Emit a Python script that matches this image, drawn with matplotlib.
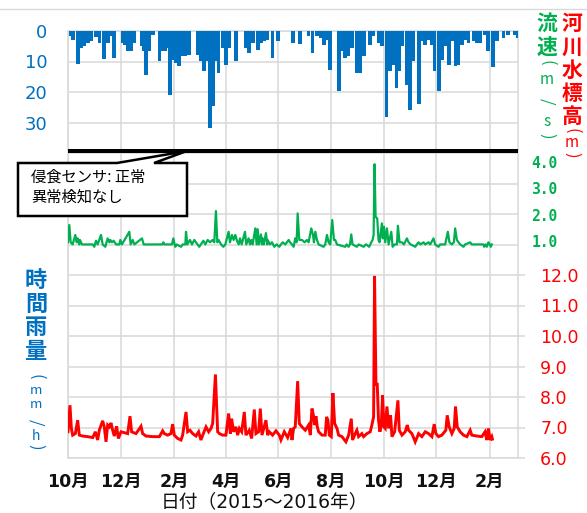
import matplotlib
matplotlib.use("Agg")
import matplotlib.pyplot as plt
from matplotlib.patches import Polygon
from matplotlib.lines import Line2D
import numpy as np
import pandas as pd

plt.rcParams["font.family"] = ["DejaVu Sans", "Noto Sans CJK JP"]

START = pd.Timestamp("2015-10-01")

# ---- hourly rainfall (mm/h), day offset from START ----
rain_day = [3.5, 6.2, 11.6, 15.1, 18.6, 22.8, 27.1, 32.5, 36.7, 41.7, 46.0, 50.0, 53.7,
            63.4, 66.1, 69.2, 73.1, 76.2, 85.4, 88.0, 90.1, 94.3, 98.2,
            106.0, 109.0, 112.5, 115.6, 118.7, 122.2, 125.2, 129.1, 133.0, 136.0, 140.7,
            150.4, 154.2, 158.1, 161.6, 164.7, 168.2, 171.6, 174.7, 179.4, 183.2, 187.1, 194.8,
            206.4, 210.3, 214.2, 220.0, 223.8, 227.7, 231.5, 237.3, 243.2, 261.0,
            269.4, 279.0, 283.7, 288.8, 293.4, 297.3, 300.4, 303.8, 314.7, 318.1, 321.6,
            325.4, 329.3, 335.1, 339.4, 343.2, 350.6, 354.4, 360.2, 364.1, 369.5, 373.8,
            377.6, 381.1, 383.8, 387.3, 392.7, 396.5, 400.8, 407.0, 410.4, 414.3, 418.2,
            422.0, 425.2, 430.2, 433.7, 437.5, 441.8, 446.4, 449.5, 453.0, 456.8, 460.7,
            464.5, 470.3, 474.2, 478.0, 483.8, 486.9, 492.7, 497.4, 505.1, 510.1, 517.8, 521.6]
rain_mm = [1.5, 2.8, 10.8, 5.6, 5.0, 3.9, 3.4, 2.0, 3.9, 9.2, 3.9, 1.5, 8.9,
           3.9, 4.5, 6.7, 6.7, 3.9, 5.0, 6.5, 14.3, 6.7, 1.2,
           9.9, 6.7, 6.7, 5.6, 20.9, 9.5, 10.5, 11.6, 8.3, 8.3, 7.8,
           8.0, 9.9, 13.2, 9.9, 31.8, 24.7, 9.9, 13.8, 5.6, 11.0, 5.6, 9.9,
           5.6, 7.2, 3.9, 6.2, 3.9, 3.4, 2.8, 8.9, 3.4, 3.9,
           4.3, 1.8, 7.2, 1.8, 2.3, 4.5, 2.8, 12.7, 19.8, 6.7, 8.9,
           8.3, 5.6, 13.8, 13.8, 8.3, 4.5, 1.8, 3.9, 5.0, 28.3, 13.2,
           11.0, 18.7, 13.2, 5.0, 17.6, 25.8, 9.9, 23.9, 3.4, 4.5, 2.8,
           4.5, 13.2, 19.8, 9.4, 5.0, 11.0, 3.4, 11.6, 11.0, 4.5, 2.8,
           3.9, 3.4, 3.9, 3.9, 1.2, 6.7, 11.9, 3.4, 2.3, 1.2, 1.2, 2.3]

# ---- flow velocity (m/s) ----
vel_day = [0, 1.5, 3.1, 5.4, 8.5, 10.1, 11.2, 13.1, 13.9, 16.2, 24.7, 28.7, 30.5, 32.5,
           34.4, 38.3, 40.2, 43.3, 46.0, 48.0, 49.1, 51.0, 53.0, 55.7, 59.5, 60.7, 62.6,
           71.1, 72.7, 75.0, 77.0, 85.8, 87.8, 109.8, 110.6, 112.1, 120.6, 122.2, 123.7,
           124.5, 126.0, 131.1, 133.0, 136.1, 136.9, 138.4, 141.5, 143.8, 146.5, 148.4,
           152.3, 154.2, 157.0, 159.3, 162.0, 164.7, 167.8, 169.7, 171.6, 173.2, 174.7,
           177.5, 180.2, 182.5, 186.3, 187.9, 190.2, 192.1, 194.1, 196.0, 198.0, 199.5,
           201.5, 205.3, 206.8, 209.5, 211.1, 212.6, 214.2, 217.3, 218.8, 220.0, 221.5,
           223.8, 225.0, 225.7, 227.3, 229.6, 231.2, 231.6, 234.3, 236.6, 239.3, 242.0,
           245.1, 247.0, 249.0, 252.1, 256.0, 257.5, 259.8, 261.7, 263.6, 265.2, 266.4,
           268.3, 271.4, 274.5, 277.2, 279.1, 282.2, 284.2, 285.3, 286.9, 288.8, 290.7,
           296.5, 298.4, 300.4, 302.3, 304.2, 306.5, 308.5, 310.0, 312.0, 321.6, 323.2,
           325.5, 327.1, 328.6, 330.1, 335.1, 337.1, 342.9, 345.6, 349.4, 351.8, 353.3,
           354.5, 355.6, 356.8, 358.7, 360.2, 361.4, 364.1, 365.2, 366.5, 368.0, 370.0,
           371.9, 375.0, 376.6, 378.9, 381.6, 382.7, 384.6, 387.4, 389.7, 393.1, 395.1,
           397.4, 402.8, 404.7, 406.7, 409.0, 412.4, 414.4, 418.2, 420.1, 424.0, 425.9,
           429.8, 431.7, 437.5, 440.6, 442.5, 445.3, 447.6, 449.1, 451.1, 453.0, 454.9,
           458.8, 460.7, 466.5, 468.4, 481.9, 482.7, 484.6, 485.8, 487.7, 489.2, 490.4, 491.6]
vel_ms = [0.95, 1.61, 0.95, 0.87, 1.23, 0.95, 1.10, 0.87, 1.04, 0.87, 0.87, 0.87, 0.78, 1.01,
          0.87, 1.23, 0.87, 0.78, 1.10, 0.95, 1.04, 0.95, 1.01, 0.87, 0.87, 1.04, 0.87,
          1.35, 0.87, 1.04, 0.87, 1.10, 0.87, 0.87, 0.95, 0.87, 0.87, 1.10, 0.87,
          0.78, 0.87, 0.78, 0.87, 0.87, 1.35, 0.87, 1.04, 0.87, 1.04, 0.95,
          0.78, 0.87, 1.01, 0.87, 1.04, 0.95, 1.04, 0.95, 2.14, 0.95, 1.04,
          0.87, 0.78, 0.87, 1.35, 0.95, 1.23, 1.04, 1.23, 1.01, 0.87, 1.10,
          0.87, 1.35, 0.87, 1.10, 0.87, 1.04, 0.87, 1.48, 0.87, 1.45, 0.87,
          1.25, 0.87, 1.10, 0.87, 1.30, 0.87, 1.04, 0.87, 0.95, 0.78, 0.87,
          0.78, 0.87, 0.95, 0.87, 1.04, 0.95, 0.87, 0.78, 1.10, 0.95, 2.05,
          1.04, 1.04, 0.95, 1.04, 0.95, 1.48, 1.23, 0.95, 1.35, 1.04, 0.87,
          0.78, 0.87, 1.23, 0.95, 0.87, 1.80, 1.04, 1.04, 0.87, 0.78, 0.87,
          0.78, 0.87, 1.25, 0.87, 0.78, 0.87, 0.78, 0.87, 0.78, 0.95, 1.04,
          1.23, 3.92, 1.92, 1.86, 1.04, 0.95, 1.67, 1.10, 1.54, 0.95, 1.48,
          0.87, 1.35, 0.78, 0.87, 0.87, 1.58, 0.95, 0.95, 0.87, 1.10, 0.95,
          0.87, 0.78, 0.87, 0.95, 0.87, 0.95, 0.87, 0.95, 0.87, 1.10, 0.87,
          0.78, 0.87, 0.87, 1.35, 0.95, 0.87, 0.95, 1.48, 1.04, 0.95, 0.87,
          0.78, 0.87, 0.95, 0.87, 0.87, 0.78, 0.87, 0.78, 0.95, 0.87, 0.78, 0.87]

# ---- river water level elevation (m) ----
lvl_day = [0, 2.3, 3.9, 5.4, 8.5, 11.2, 13.1, 17.0, 22.8, 28.7, 31.7, 34.4, 36.3, 40.2,
           42.1, 44.1, 46.0, 48.0, 49.9, 51.8, 53.7, 56.4, 58.4, 61.5, 69.2, 71.9, 73.8,
           78.9, 84.7, 86.6, 90.5, 98.2, 106.0, 109.8, 111.7, 115.6, 119.4, 121.4, 123.3,
           127.2, 131.1, 133.0, 136.9, 138.8, 141.5, 144.6, 148.4, 151.5, 154.2, 157.0,
           160.1, 163.2, 165.9, 167.8, 171.0, 173.6, 175.6, 179.4, 183.2, 186.3, 188.3,
           189.8, 192.1, 194.8, 196.8, 198.8, 201.5, 204.5, 206.4, 210.3, 213.0, 216.1,
           218.0, 221.1, 223.1, 225.0, 229.6, 231.6, 233.5, 237.3, 241.2, 245.1, 247.0,
           250.9, 254.8, 258.6, 259.8, 261.7, 263.6, 266.4, 268.3, 271.4, 275.3, 279.1,
           281.1, 283.0, 285.0, 286.1, 287.6, 289.2, 290.7, 294.6, 298.4, 300.0, 301.5,
           303.1, 305.4, 307.3, 309.3, 312.0, 313.9, 317.8, 322.4, 325.5, 328.6, 330.1,
           333.2, 335.1, 337.1, 340.9, 342.9, 346.7, 350.6, 352.5, 354.5, 355.6, 357.2,
           358.7, 360.2, 361.8, 363.4, 364.9, 366.5, 368.0, 370.0, 371.9, 374.2, 375.8,
           378.9, 382.7, 384.3, 387.4, 391.2, 393.5, 395.1, 398.9, 402.8, 406.7, 410.5,
           414.4, 418.2, 422.1, 424.8, 426.7, 429.8, 433.7, 438.3, 439.9, 442.2, 445.3,
           448.0, 449.5, 451.5, 454.9, 458.8, 462.7, 466.5, 468.4, 474.2, 480.0, 483.8,
           485.8, 487.7, 489.6, 491.6, 492.3]
lvl_m = [6.86, 7.73, 6.97, 6.75, 6.80, 7.24, 6.75, 6.72, 6.70, 6.67, 6.86, 6.59, 6.91, 7.22,
         7.02, 6.53, 7.08, 7.02, 7.15, 6.91, 6.72, 7.04, 6.64, 6.86, 6.80, 7.37, 6.86,
         6.80, 7.04, 6.80, 6.72, 6.70, 6.70, 6.89, 6.80, 6.75, 6.80, 7.11, 6.75,
         6.64, 6.59, 6.75, 7.51, 6.86, 6.91, 6.80, 6.72, 6.86, 6.59, 6.80,
         7.02, 6.86, 6.97, 7.13, 8.74, 6.86, 6.80, 6.75, 6.75, 7.46, 6.80,
         7.29, 6.86, 7.02, 6.75, 6.97, 6.86, 7.51, 6.75, 6.91, 6.64, 7.59,
         6.80, 6.86, 7.62, 6.75, 7.24, 6.75, 6.86, 6.75, 6.89, 6.75, 6.59,
         6.86, 6.67, 6.97, 6.59, 6.97, 7.02, 8.52, 7.13, 7.02, 6.91, 7.08,
         6.75, 7.62, 7.36, 7.08, 7.37, 7.02, 6.86, 6.75, 6.75, 7.35, 7.24,
         6.75, 6.70, 8.13, 7.13, 6.97, 6.75, 6.70, 6.53, 6.75, 7.29, 6.59,
         6.80, 6.91, 6.70, 6.80, 6.70, 6.80, 6.86, 7.08, 7.35, 11.97, 8.42,
         8.42, 7.24, 6.86, 7.08, 8.05, 7.02, 6.97, 7.69, 6.97, 7.40, 6.70,
         6.86, 7.89, 6.91, 6.75, 6.86, 7.08, 6.91, 6.80, 6.53, 6.80, 6.70,
         6.86, 6.80, 6.70, 7.11, 6.80, 6.70, 6.75, 6.91, 7.40, 7.02, 6.80,
         6.97, 7.69, 7.02, 6.86, 6.75, 6.70, 6.91, 6.75, 6.72, 6.70, 6.86,
         6.59, 6.97, 6.59, 6.70, 6.62]

month_ticks = pd.date_range("2015-10-01", "2017-02-01", freq="2MS")
rain_ticks = [0, 10, 20, 30]
vel_ticks = [1.0, 2.0, 3.0, 4.0]
lvl_ticks = [6.0, 7.0, 8.0, 9.0, 10.0, 11.0, 12.0]

BLUE = "#0070C0"
GREEN = "#00B050"
RED = "#FF0000"
GRID = "#D9D9D9"

W, H = 587, 513
fig = plt.figure(figsize=(W / 100, H / 100), dpi=100)


def fx(px):
    return px / W


def fy(py):
    return 1 - py / H


L, R, T, B = 68, 518, 31, 458
rect = [fx(L), fy(B), (R - L) / W, (B - T) / H]

# base axes: shared grid and month axis
ax = fig.add_axes(rect)
ax.set_xlim(START, START + pd.Timedelta(days=522))
ax.set_ylim(0, 14)
ax.set_yticks(range(15))
ax.set_xticks(month_ticks)
ax.set_xticklabels([f"{d.month}月" for d in month_ticks], fontsize=12.5,
                   fontweight="bold", color="#111111")
ax.grid(True, color=GRID, lw=1.1)
ax.tick_params(axis="both", length=0)
ax.tick_params(axis="y", labelleft=False)
ax.tick_params(axis="x", pad=11)
for s in ax.spines.values():
    s.set_color(GRID)
    s.set_linewidth(1.1)
ax.set_axisbelow(True)

# erosion sensor status line
ax.axhline(10.08, color="black", lw=2.9, zorder=5)


def overlay():
    a = fig.add_axes(rect, sharex=ax)
    a.patch.set_visible(False)
    for s in a.spines.values():
        s.set_visible(False)
    a.tick_params(axis="x", bottom=False, labelbottom=False)
    return a


# rainfall bars hanging from the top
ar = overlay()
ar.set_ylim(140, 0)
rain_x = START + pd.to_timedelta(rain_day, unit="D")
ar.bar(rain_x, rain_mm, width=4.3, color=BLUE, lw=0)
ar.set_yticks(rain_ticks, labels=[str(v) for v in rain_ticks], fontsize=13)
ar.tick_params(axis="y", length=0, labelcolor=BLUE, pad=15)

# water level
al = overlay()
al.set_ylim(6, 20)
lvl_x = START + pd.to_timedelta(lvl_day, unit="D")
al.plot(lvl_x, lvl_m, color=RED, lw=2.1, solid_joinstyle="miter")
al.yaxis.tick_right()
al.set_yticks(lvl_ticks, labels=[f"{v:.1f}" for v in lvl_ticks], fontsize=12.5)
al.tick_params(axis="y", length=5, width=1.1, color=GRID, labelcolor=RED, pad=11)

# flow velocity
av = overlay()
av.set_ylim(-7.251, 8.985)
vel_x = START + pd.to_timedelta(vel_day, unit="D")
av.plot(vel_x, vel_ms, color=GREEN, lw=1.6)
av.yaxis.tick_right()
av.set_yticks(vel_ticks, labels=[f"{v:.1f}" for v in vel_ticks], fontsize=10.5,
              fontweight="bold", fontfamily="DejaVu Sans Mono")
av.tick_params(axis="y", length=0, labelcolor=GREEN, pad=9.5)

# callout box
pts = [(18, 163), (117, 163), (187, 151), (154, 163), (187, 163), (187, 216), (18, 216)]
poly = Polygon([(fx(x), fy(y)) for x, y in pts], closed=True, transform=fig.transFigure,
               facecolor="white", edgecolor="black", lw=1.8, zorder=10)
fig.add_artist(poly)
jp = ["Noto Sans CJK JP"]
fig.text(fx(31), fy(177), "侵食センサ: 正常", fontsize=11, family=jp, va="center", ha="left", zorder=11)
fig.text(fx(31), fy(197), "異常検知なし", fontsize=11, family=jp, va="center", ha="left", zorder=11)


def vlabel(x, items, color):
    for ch, y, size, weight, rot in items:
        fig.text(fx(x), fy(y), ch, color=color, fontsize=size, fontweight=weight,
                 rotation=rot, ha="center", va="center",
                 family=["Noto Sans CJK JP", "DejaVu Sans"])


vlabel(36, [("時", 280, 16, "bold", 0), ("間", 304, 16, "bold", 0),
            ("雨", 328, 16, "bold", 0), ("量", 352, 16, "bold", 0),
            ("(", 377, 12, "normal", -90), ("m", 391, 9.5, "normal", 0),
            ("m", 405, 9.5, "normal", 0), ("/", 422, 12, "normal", -90),
            ("h", 436, 10, "normal", 0), (")", 447, 12, "normal", -90)], BLUE)
vlabel(547, [("流", 23, 15, "bold", 0), ("速", 47, 15, "bold", 0),
             ("(", 63, 12, "normal", -90), ("m", 80, 11, "normal", 0),
             ("/", 101, 12, "normal", -90), ("s", 122, 11, "normal", 0),
             (")", 136, 12, "normal", -90)], GREEN)
vlabel(572, [("河", 23, 15, "bold", 0), ("川", 47, 15, "bold", 0),
             ("水", 70, 15, "bold", 0), ("標", 93, 15, "bold", 0),
             ("高", 116, 15, "bold", 0), ("(", 131, 12, "normal", -90),
             ("m", 143, 11, "normal", 0), (")", 155, 12, "normal", -90)], RED)

fig.text(fx(264), fy(502), "日付（2015～2016年）", fontsize=13.5,
         ha="center", va="center", color="#111111")

fig.add_artist(Line2D([0, 1], [fy(9), fy(9)], transform=fig.transFigure, color=GRID, lw=1))

fig.savefig("out.png", dpi=100)
